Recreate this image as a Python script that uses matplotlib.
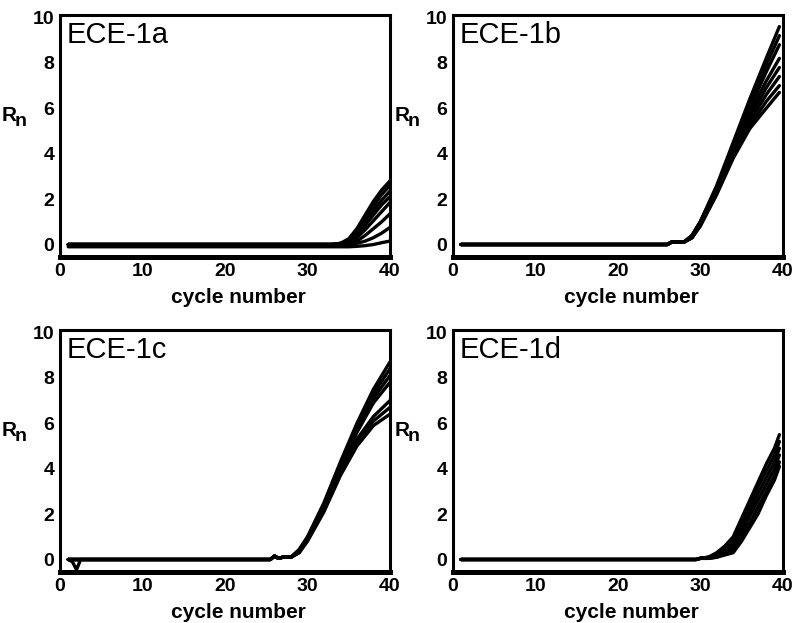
import matplotlib
matplotlib.use("Agg")
import matplotlib.pyplot as plt

plt.rcParams["font.family"] = ["Liberation Sans", "DejaVu Sans"]

# Fluorescence (Rn) read per cycle at a handful of knot cycles; one list per well.
cycles_a = [1, 33, 34, 35, 36, 37, 38, 39, 40]
rn_a = [
    [0, 0, 0.05, 0.25, 0.7, 1.3, 1.9, 2.4, 2.8],
    [0, 0, 0.05, 0.2, 0.6, 1.15, 1.7, 2.2, 2.6],
    [0, 0, 0.05, 0.15, 0.5, 1.0, 1.5, 1.95, 2.35],
    [0, 0, 0.0, 0.1, 0.4, 0.85, 1.3, 1.75, 2.1],
    [0, 0, 0.0, 0.05, 0.3, 0.65, 1.05, 1.45, 1.85],
    [0, 0, 0, 0.0, 0.15, 0.4, 0.7, 1.0, 1.35],
    [0, 0, 0, 0, 0.05, 0.15, 0.3, 0.5, 0.75],
    [-0.1, -0.1, -0.1, -0.1, -0.08, -0.05, 0.0, 0.08, 0.15],
]

cycles_b = [1, 26, 26.5, 28, 29, 30, 32, 34, 36, 38, 39.6]
rn_b = [
    [0, 0, 0.1, 0.1, 0.4, 1.0, 2.6, 4.5, 6.4, 8.2, 9.6],
    [0, 0, 0.1, 0.1, 0.4, 1.0, 2.5, 4.4, 6.2, 7.9, 9.2],
    [0, 0, 0.1, 0.1, 0.35, 0.95, 2.5, 4.3, 6.0, 7.6, 8.8],
    [0, 0, 0.1, 0.1, 0.35, 0.9, 2.4, 4.2, 5.8, 7.2, 8.2],
    [0, 0, 0.1, 0.1, 0.3, 0.9, 2.4, 4.1, 5.6, 6.9, 7.8],
    [0, 0, 0.1, 0.1, 0.3, 0.85, 2.3, 4.0, 5.4, 6.6, 7.4],
    [0, 0, 0.1, 0.1, 0.3, 0.85, 2.3, 3.9, 5.2, 6.3, 7.0],
    [0, 0, 0.1, 0.1, 0.3, 0.8, 2.2, 3.8, 5.1, 6.0, 6.7],
]

cycles_c = [1, 1.5, 2, 2.5, 25.5, 26, 26.5, 27, 28, 29, 30, 32, 34, 36, 38, 40]
rn_c = [
    [0, -0.1, -0.45, 0, 0, 0.15, 0.05, 0.1, 0.1, 0.45, 1.0, 2.5, 4.3, 6.0, 7.5, 8.7],
    [0, 0, 0, 0, 0, 0.15, 0.05, 0.1, 0.1, 0.4, 0.95, 2.4, 4.2, 5.8, 7.3, 8.4],
    [0, 0, 0, 0, 0, 0.15, 0.05, 0.1, 0.1, 0.4, 0.95, 2.4, 4.1, 5.7, 7.1, 8.1],
    [0, 0, 0, 0, 0, 0.15, 0.05, 0.1, 0.1, 0.35, 0.9, 2.3, 4.0, 5.6, 6.9, 7.8],
    [0, 0, 0, 0, 0, 0.15, 0.05, 0.1, 0.1, 0.35, 0.9, 2.3, 3.9, 5.3, 6.3, 7.0],
    [0, 0, 0, 0, 0, 0.15, 0.05, 0.1, 0.1, 0.3, 0.85, 2.2, 3.8, 5.2, 6.1, 6.7],
    [0, 0, 0, 0, 0, 0.15, 0.05, 0.1, 0.1, 0.3, 0.8, 2.1, 3.7, 5.0, 5.9, 6.4],
]

cycles_d = [1, 29.5, 30, 31, 32, 33, 34, 35, 36, 37, 38, 39, 39.6]
rn_d = [
    [0, 0, 0.05, 0.1, 0.3, 0.6, 1.0, 1.8, 2.6, 3.4, 4.2, 4.9, 5.5],
    [0, 0, 0.05, 0.1, 0.25, 0.5, 0.9, 1.6, 2.4, 3.2, 3.9, 4.6, 5.2],
    [0, 0, 0.05, 0.1, 0.2, 0.4, 0.75, 1.4, 2.1, 2.9, 3.6, 4.3, 4.9],
    [0, 0, 0.05, 0.05, 0.15, 0.3, 0.6, 1.2, 1.9, 2.6, 3.3, 4.0, 4.6],
    [0, 0, 0.05, 0.05, 0.1, 0.25, 0.45, 1.0, 1.6, 2.3, 3.0, 3.7, 4.3],
    [0, 0, 0.05, 0.05, 0.1, 0.2, 0.3, 0.8, 1.4, 2.0, 2.8, 3.5, 4.1],
]

panel_names = ["ECE-1a", "ECE-1b", "ECE-1c", "ECE-1d"]
x_ticks = [0, 10, 20, 30, 40]
y_ticks = [0, 2, 4, 6, 8, 10]

panels = [
    (cycles_a, rn_a),
    (cycles_b, rn_b),
    (cycles_c, rn_c),
    (cycles_d, rn_d),
]

# axes rectangles in figure fractions: left, bottom, width, height
rects = [
    [0.0757, 0.5875, 0.416, 0.388],
    [0.5710, 0.5875, 0.416, 0.388],
    [0.0757, 0.0819, 0.416, 0.388],
    [0.5710, 0.0819, 0.416, 0.388],
]

fig = plt.figure(figsize=(7.93, 6.23), dpi=100)

for name, (cyc, curves), rect in zip(panel_names, panels, rects):
    ax = fig.add_axes(rect)
    for rn in curves:
        ax.plot(cyc, rn, color="black", lw=2.4, solid_capstyle="round")

    ax.set_xlim(0, 40)
    ax.set_ylim(-0.55, 10.1)
    ax.set_xticks(x_ticks)
    ax.set_yticks(y_ticks)
    ax.tick_params(length=0, labelsize=14, pad=4)
    for lbl in ax.get_xticklabels() + ax.get_yticklabels():
        lbl.set_fontweight("bold")

    for side in ["left", "right", "top"]:
        ax.spines[side].set_linewidth(2.2)
    ax.spines["bottom"].set_linewidth(3.6)

    ax.set_xlabel("cycle number", fontsize=15, fontweight="bold", labelpad=1)
    ax.xaxis.set_label_coords(0.54, -0.13)

    ax.text(0.02, 0.975, name, transform=ax.transAxes, ha="left", va="top",
            fontsize=21)

    # R with subscript n, set left of the y tick labels
    ax.text(-0.155, 0.585, "R", transform=ax.transAxes, ha="center",
            va="center", fontsize=15, fontweight="bold")
    ax.text(-0.118, 0.56, "n", transform=ax.transAxes, ha="center",
            va="center", fontsize=14, fontweight="bold")

fig.savefig("out.png", dpi=100, facecolor="white")
